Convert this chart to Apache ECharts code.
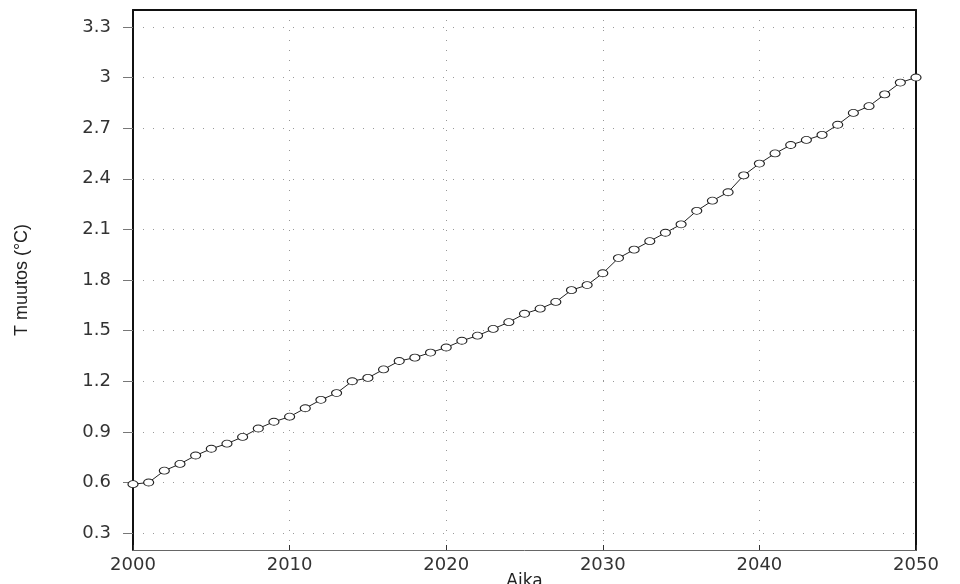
<!DOCTYPE html>
<html>
<head>
<meta charset="utf-8">
<script src="https://cdn.jsdelivr.net/npm/echarts@6/dist/echarts.min.js"></script>
<style>html,body{margin:0;padding:0;background:#fff}#c{width:960px;height:584px}</style>
</head>
<body>
<div id="c"></div>
<script>
var years = [];
for (var y = 2000; y <= 2050; y++) years.push(y);
var tempChange = [
  0.59, 0.60, 0.67, 0.71, 0.76, 0.80, 0.83, 0.87, 0.92, 0.96,
  0.99, 1.04, 1.09, 1.13, 1.20, 1.22, 1.27, 1.32, 1.34, 1.37,
  1.40, 1.44, 1.47, 1.51, 1.55, 1.60, 1.63, 1.67, 1.74, 1.77,
  1.84, 1.93, 1.98, 2.03, 2.08, 2.13, 2.21, 2.27, 2.32, 2.42,
  2.49, 2.55, 2.60, 2.63, 2.66, 2.72, 2.79, 2.83, 2.90, 2.97,
  3.00
];
var yTicks = [0.3, 0.6, 0.9, 1.2, 1.5, 1.8, 2.1, 2.4, 2.7, 3, 3.3];
var yTitle = 'T muutos (°C)';
var xTitle = 'Aika';

var chart = echarts.init(document.getElementById('c'), null, {renderer: 'canvas'});
var labelFont = {fontFamily: 'DejaVu Sans', fontSize: 18, color: '#333'};
chart.setOption({
  animation: false,
  backgroundColor: '#fff',
  grid: {left: 133, right: 44, top: 10, bottom: 34, containLabel: false, outerBoundsMode: 'none'},
  xAxis: [{
    type: 'value', min: 2000, max: 2050, interval: 10,
    name: xTitle, nameLocation: 'middle', nameGap: 23, nameMoveOverlap: false,
    nameTextStyle: {fontFamily: 'DejaVu Sans', fontSize: 17, color: '#222'},
    axisLine: {show: true, lineStyle: {color: '#666', width: 1}},
    axisTick: {show: true, inside: true, length: 5, lineStyle: {color: '#333'}},
    axisLabel: Object.assign({margin: 6, formatter: function (v) { return String(v); }}, labelFont),
    splitLine: {show: true, lineStyle: {color: '#999', type: [1, 9], width: 1}}
  }, {
    type: 'value', position: 'top', min: 2000, max: 2050,
    axisLine: {show: true, lineStyle: {color: '#111', width: 2}},
    axisTick: {show: false}, axisLabel: {show: false}, splitLine: {show: false}
  }],
  yAxis: [{
    type: 'value', min: 0.2, max: 3.4,
    name: yTitle, nameLocation: 'middle', nameGap: 102, nameRotate: 90, nameMoveOverlap: false,
    nameTextStyle: {fontFamily: 'Liberation Sans Narrow, Liberation Sans', fontSize: 18, color: '#222'},
    axisLine: {show: true, onZero: false, lineStyle: {color: '#111', width: 2}},
    axisTick: {show: true, length: 10, customValues: yTicks, lineStyle: {color: '#777'}},
    axisLabel: Object.assign({margin: 22, customValues: yTicks}, labelFont),
    splitLine: {show: true, lineStyle: {color: '#999', type: [1, 9], width: 1}}
  }, {
    type: 'value', position: 'right', min: 0.2, max: 3.4,
    axisLine: {show: true, lineStyle: {color: '#111', width: 2}},
    axisTick: {show: false}, axisLabel: {show: false}, splitLine: {show: false}
  }],
  series: [{
    type: 'line',
    data: years.map(function (yr, i) { return [yr, tempChange[i]]; }),
    symbol: 'circle', symbolSize: [10, 7], showAllSymbol: true,
    lineStyle: {color: '#222', width: 1},
    itemStyle: {color: '#fff', borderColor: '#222', borderWidth: 1},
    clip: false
  }]
});
</script>
</body>
</html>
